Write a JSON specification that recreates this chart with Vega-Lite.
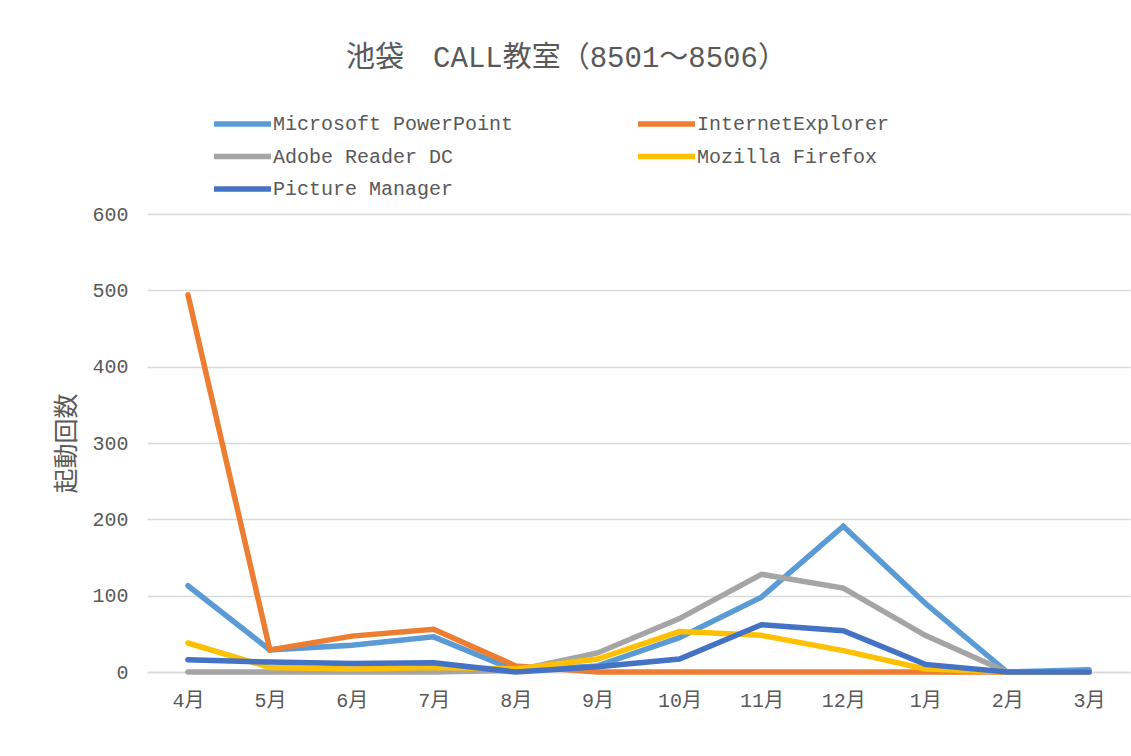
{
  "$schema": "https://vega.github.io/schema/vega-lite/v6.json",
  "autosize": "none",
  "width": 983,
  "height": 458,
  "padding": {"left": 147, "top": 214, "right": 1, "bottom": 84},
  "background": "white",
  "title": {
    "text": "池袋　CALL教室（8501～8506）",
    "font": "Liberation Mono, Noto Sans CJK JP",
    "fontSize": 29,
    "fontWeight": "normal",
    "color": "#595959",
    "anchor": "middle",
    "frame": "group",
    "dx": -72,
    "offset": 35
  },
  "config": {
    "view": {"stroke": null},
    "font": "Liberation Mono, Noto Sans CJK JP"
  },
  "data": {
    "values": [
      {"month": "4月", "app": "Microsoft PowerPoint", "count": 113},
      {"month": "5月", "app": "Microsoft PowerPoint", "count": 29},
      {"month": "6月", "app": "Microsoft PowerPoint", "count": 35},
      {"month": "7月", "app": "Microsoft PowerPoint", "count": 46},
      {"month": "8月", "app": "Microsoft PowerPoint", "count": 2},
      {"month": "9月", "app": "Microsoft PowerPoint", "count": 8},
      {"month": "10月", "app": "Microsoft PowerPoint", "count": 45},
      {"month": "11月", "app": "Microsoft PowerPoint", "count": 98},
      {"month": "12月", "app": "Microsoft PowerPoint", "count": 191},
      {"month": "1月", "app": "Microsoft PowerPoint", "count": 90},
      {"month": "2月", "app": "Microsoft PowerPoint", "count": 0},
      {"month": "3月", "app": "Microsoft PowerPoint", "count": 3},
      {"month": "4月", "app": "InternetExplorer", "count": 494},
      {"month": "5月", "app": "InternetExplorer", "count": 29},
      {"month": "6月", "app": "InternetExplorer", "count": 47},
      {"month": "7月", "app": "InternetExplorer", "count": 56},
      {"month": "8月", "app": "InternetExplorer", "count": 8},
      {"month": "9月", "app": "InternetExplorer", "count": 0},
      {"month": "10月", "app": "InternetExplorer", "count": 0},
      {"month": "11月", "app": "InternetExplorer", "count": 0},
      {"month": "12月", "app": "InternetExplorer", "count": 0},
      {"month": "1月", "app": "InternetExplorer", "count": 0},
      {"month": "2月", "app": "InternetExplorer", "count": 0},
      {"month": "3月", "app": "InternetExplorer", "count": 0},
      {"month": "4月", "app": "Adobe Reader DC", "count": 0},
      {"month": "5月", "app": "Adobe Reader DC", "count": 0},
      {"month": "6月", "app": "Adobe Reader DC", "count": 0},
      {"month": "7月", "app": "Adobe Reader DC", "count": 0},
      {"month": "8月", "app": "Adobe Reader DC", "count": 2},
      {"month": "9月", "app": "Adobe Reader DC", "count": 25},
      {"month": "10月", "app": "Adobe Reader DC", "count": 70},
      {"month": "11月", "app": "Adobe Reader DC", "count": 128},
      {"month": "12月", "app": "Adobe Reader DC", "count": 110},
      {"month": "1月", "app": "Adobe Reader DC", "count": 48},
      {"month": "2月", "app": "Adobe Reader DC", "count": 0},
      {"month": "3月", "app": "Adobe Reader DC", "count": 0},
      {"month": "4月", "app": "Mozilla Firefox", "count": 38},
      {"month": "5月", "app": "Mozilla Firefox", "count": 6},
      {"month": "6月", "app": "Mozilla Firefox", "count": 4},
      {"month": "7月", "app": "Mozilla Firefox", "count": 6},
      {"month": "8月", "app": "Mozilla Firefox", "count": 4},
      {"month": "9月", "app": "Mozilla Firefox", "count": 17},
      {"month": "10月", "app": "Mozilla Firefox", "count": 53},
      {"month": "11月", "app": "Mozilla Firefox", "count": 48},
      {"month": "12月", "app": "Mozilla Firefox", "count": 28},
      {"month": "1月", "app": "Mozilla Firefox", "count": 4},
      {"month": "2月", "app": "Mozilla Firefox", "count": 0},
      {"month": "3月", "app": "Mozilla Firefox", "count": 0},
      {"month": "4月", "app": "Picture Manager", "count": 16},
      {"month": "5月", "app": "Picture Manager", "count": 13},
      {"month": "6月", "app": "Picture Manager", "count": 11},
      {"month": "7月", "app": "Picture Manager", "count": 12},
      {"month": "8月", "app": "Picture Manager", "count": 0},
      {"month": "9月", "app": "Picture Manager", "count": 7},
      {"month": "10月", "app": "Picture Manager", "count": 17},
      {"month": "11月", "app": "Picture Manager", "count": 62},
      {"month": "12月", "app": "Picture Manager", "count": 54},
      {"month": "1月", "app": "Picture Manager", "count": 10},
      {"month": "2月", "app": "Picture Manager", "count": 0},
      {"month": "3月", "app": "Picture Manager", "count": 0}
    ]
  },
  "mark": {"type": "line", "strokeWidth": 5.5, "strokeCap": "round", "strokeJoin": "miter"},
  "encoding": {
    "x": {
      "field": "month",
      "type": "nominal",
      "sort": ["4月","5月","6月","7月","8月","9月","10月","11月","12月","1月","2月","3月"],
      "scale": {"type": "point", "padding": 0.5},
      "axis": {
        "title": null,
        "labelAngle": 0,
        "labelFontSize": 20,
        "labelColor": "#595959",
        "labelPadding": 18,
        "ticks": false,
        "domain": true,
        "domainColor": "#D9D9D9",
        "domainWidth": 1.5,
        "grid": false
      }
    },
    "y": {
      "field": "count",
      "type": "quantitative",
      "scale": {"domain": [0, 600], "nice": false},
      "axis": {
        "title": "起動回数",
        "titleFont": "Noto Sans CJK JP",
        "titleFontSize": 25,
        "titleFontWeight": "normal",
        "titleColor": "#595959",
        "titlePadding": 12,
        "values": [0, 100, 200, 300, 400, 500, 600],
        "labelFontSize": 20,
        "labelColor": "#595959",
        "labelPadding": 19,
        "ticks": false,
        "domain": false,
        "grid": true,
        "gridColor": "#D9D9D9",
        "gridWidth": 1.5
      }
    },
    "color": {
      "field": "app",
      "type": "nominal",
      "sort": ["Microsoft PowerPoint", "InternetExplorer", "Adobe Reader DC", "Mozilla Firefox", "Picture Manager"],
      "scale": {
        "domain": ["Microsoft PowerPoint", "InternetExplorer", "Adobe Reader DC", "Mozilla Firefox", "Picture Manager"],
        "range": ["#5B9BD5", "#ED7D31", "#A5A5A5", "#FFC000", "#4472C4"]
      },
      "legend": {
        "title": null,
        "orient": "none",
        "legendX": 64,
        "legendY": -106,
        "direction": "horizontal",
        "columns": 2,
        "columnPadding": 121,
        "rowPadding": 0.5,
        "clipHeight": 32,
        "symbolType": "stroke",
        "symbolSize": 3249,
        "symbolStrokeWidth": 5.5,
        "labelFontSize": 20,
        "labelColor": "#595959",
        "labelOffset": -1,
        "labelLimit": 400
      }
    }
  }
}
